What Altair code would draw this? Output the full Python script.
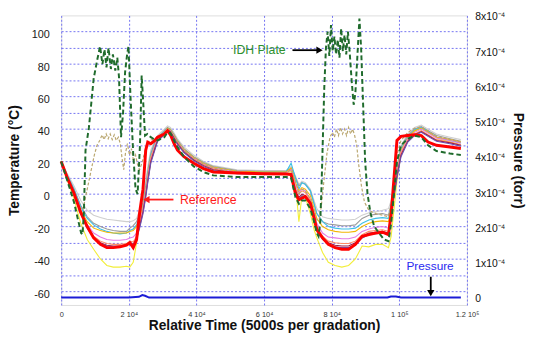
import altair as alt
import pandas as pd

# ---------------- data ----------------
TIME = [0, 1700, 3800, 5800, 7700, 9600, 11600, 13500, 15400, 17400,
        19300, 20300, 21300, 22300, 23200, 24200, 25000, 25600, 26500, 27700,
        28500, 30500, 31450, 32300, 33400, 34400, 36300, 39200, 42100, 45000,
        52000, 60000, 66500, 68000, 69300, 70300, 71200, 72200, 73700, 74800,
        75600, 77300, 79000, 81000, 83000, 85000, 87000, 89000, 91000, 93000,
        95000, 96800, 97600, 98400, 99300, 100500, 102500, 104500, 106500, 108500,
        111000, 115000, 118200]

REFERENCE = [20, 10.5, 0.5, -11.5, -20, -27, -31, -33, -33, -32.5,
             -31.5, -30, -33, -28, -11.5, 3, 27, 32, 31, 33,
             35, 37, 39, 36.5, 31, 27, 23, 19, 15.7, 13.6,
             13, 12.5, 12.3, 12, 0, -3.5, -2.5, -1.6, -5.7, -15,
             -22, -27, -31, -33, -34, -34, -31, -26, -25, -24,
             -23.5, -25, -12, 9, 33, 35.5, 36, 36.5, 36, 32,
             30, 29, 28]

LIGHT_GREY = [20, 13, 5, -4, -10, -13, -14.5, -15.5, -16, -16.5,
              -17, -17, -16.5, -15, -10, -3, 8, 17, 27, 33,
              36, 40, 42, 41, 37.5, 34, 29, 24, 20, 17.5,
              15, 14.5, 14.5, 17, 11, 6, 8, 7, 3, -4,
              -9, -14, -15, -15.5, -16, -16, -15.5, -13, -11.5, -11,
              -10, -9, -4, 5, 18, 30, 37, 41, 42.5, 40,
              37, 35, 33.5]

GREY = [20, 12, 3, -7, -14, -18, -20, -21.5, -22.5, -23,
        -23, -21, -19.5, -17, -12, -5, 5, 14, 25, 32,
        35, 39, 41, 40, 36.5, 33, 28, 23, 19.5, 17,
        14.5, 14, 14, 16, 10, 5, 7, 6, 2, -6,
        -12, -17, -18.5, -19, -19.5, -19.5, -19, -15, -13, -12.5,
        -12, -13, -6, 4, 16, 29, 36, 40, 41.5, 39,
        36, 34, 32.5]

CYAN = [20, 12, 3, -8, -15, -19, -21.5, -23, -24, -24.5,
        -24, -22.5, -21.5, -19, -14, -7, 3, 12, 24, 31,
        34.5, 38.5, 40.5, 39.5, 36, 32.5, 27.5, 22.5, 19, 16.5,
        14, 13.5, 13.5, 19, 10, 3, 7, 6, 2, -6,
        -12, -17, -20, -21, -21.5, -21.5, -21, -18, -16, -15,
        -14.5, -15, -8, 3, 15, 28, 35, 39.5, 41, 38.5,
        35, 33, 31.5]

GOLD = [20, 11, 1, -10, -17, -21, -22.5, -23.5, -24, -24,
        -24, -23, -22.5, -20, -15, -8, 2, 11, 23, 30,
        34, 38, 40.5, 39.5, 36, 32.5, 27.5, 22.5, 19, 16.5,
        14, 13.5, 13.5, 16, 7, 2, 4, 3, -1, -9,
        -15, -20, -22, -23, -23.5, -23.5, -23, -20, -18, -17,
        -16.5, -17, -9, 2, 14, 27, 34.5, 39, 40.5, 38,
        35, 33.5, 32]

PINK = [20, 11, 0, -11, -19, -24, -26.5, -28, -28.5, -28.5,
        -28, -27, -26.5, -24, -17, -9, 1, 10, 22, 30,
        34, 38, 40, 39, 35.5, 32, 27, 22, 18.5, 16,
        13.5, 13, 13, 15, 5, 1, 3, 2, -3, -11,
        -18, -24, -26.5, -27, -27.5, -27.5, -26.5, -23, -21.5, -20.5,
        -20, -21, -12, 1, 13, 26, 34, 38, 40, 37.5,
        34.5, 33, 31.5]

SALMON = [20, 10.5, -0.5, -12, -20, -26, -29, -30.5, -31, -31,
          -30.5, -29, -29.5, -26, -19, -10, 0, 9, 21, 29,
          33.5, 37.5, 39.5, 38.5, 35, 31.5, 26.5, 21.5, 18, 15.5,
          13, 12.5, 12.5, 13, 3, 0, 2, 1, -4, -12,
          -20, -26, -29, -30, -30.5, -30.5, -29, -25, -23, -22.5,
          -22, -23, -13, 0, 12, 25, 33, 37, 39, 36.5,
          33.5, 32, 30.5]

MAROON = [20, 10.5, 0, -11.5, -20, -26.5, -30, -31.5, -32, -32,
          -31, -29.5, -31, -27, -20, -11, -1, 8, 20, 28,
          33, 37, 39.5, 38.5, 34.5, 31, 26, 21, 17.5, 15,
          13, 12.5, 12.5, 12.5, 2, -2, 0, -1, -5, -13,
          -21, -27, -30, -31.5, -32, -32, -30, -26, -24, -23.5,
          -23, -24, -14, -1, 11, 24, 32.5, 36.5, 38.5, 36,
          33, 31.5, 30]

PURPLE = [20, 10, -1, -12, -21, -27, -30.5, -32, -32.5, -32.5,
          -31.5, -30, -31.5, -27.5, -21, -12, -2, 7, 19, 27,
          32.5, 36.5, 39, 38, 34, 30.5, 25.5, 20.5, 17, 14.5,
          12.5, 12, 12, 12, 1, -3, -1, -2, -6, -14,
          -22, -28, -31, -32.5, -33, -33, -31, -27, -25, -24.5,
          -24, -25, -15, -2, 10, 23, 32, 36, 38, 35.5,
          32.5, 31, 29.5]

YELLOW = [20, 9, -3, -18, -28, -34, -40, -44, -45, -45,
          -44.5, -45, -42, -30, -18, -8, 2, 10, 20, 28,
          33, 37, 40, 40, 36, 32, 27, 22, 18.5, 16,
          13.5, 13, 13, 14, 6, -17, -1, -2, -12, -22,
          -27, -36, -42, -44, -45, -44, -40, -32, -32.5, -31,
          -31, -33, -26, -10, 8, 25, 34, 38.5, 41, 38,
          34.5, 32, 30]

IDH_TIME = [0, 1700, 3800, 5000, 5900, 6300, 6700, 7200, 8200, 9000,
            9600, 10600, 11500, 12200, 12800, 13400, 14000, 14700, 15300, 16000,
            16600, 17100, 17700, 18300, 18900, 19500, 19900, 20500, 21300, 22000,
            22600, 23300, 23800, 24300, 24800, 25500, 26500, 27700, 28500, 30500,
            31450, 32300, 33400, 34400, 36300, 39200, 42100, 45000, 52000, 60000,
            66500, 68000, 69300, 70300, 71200, 72200, 73700, 74800, 75600, 76100,
            76600, 77000, 77400, 77800, 78300, 78800, 79300, 79800, 80300, 80800,
            81300, 81800, 82300, 82800, 83300, 83800, 84300, 84800, 85300, 85900,
            86500, 87000, 87600, 88200, 88700, 89300, 89900, 90600, 91500, 92600,
            94000, 95500, 96800, 97600, 98400, 99300, 100500, 102500, 104500, 106500,
            108500, 111000, 115000, 118200]
IDH_PLATE = [20, 9, -5, -16, -24, -25, -12, 27, 41, 58,
             71, 82, 91, 80, 89, 78, 90, 77, 86, 76,
             84, 72, 35, 50, 75, 86, 91, 60, 25, 3,
             0, 30, 73, 55, 36, 37, 35, 33.5, 33, 35,
             38, 37.5, 33, 29, 23, 17, 13.5, 11.5, 10.5, 10.5,
             10.5, 10, -2, -6, -4, -4, -9, -17, -24, -26,
             -18, 5, 35, 65, 90, 100, 85, 104, 88, 97,
             86, 95, 84, 102, 88, 98, 86, 100, 88, 70,
             55, 62, 85, 108, 90, 55, 20, 0, -12, -20,
             -24, -28, -29, -18, 0, 20, 30, 34, 36, 35,
             30, 26.5, 25, 24]

TAN_TIME = [0, 1700, 3800, 5800, 6600, 7400, 8200, 9000, 9800, 10600,
            11400, 12100, 12700, 13300, 13900, 14500, 15100, 15700, 16300, 16900,
            17500, 18000, 18500, 19000, 19600, 20200, 20800, 21400, 22000, 22600,
            23200, 24000, 25000, 26000, 27700, 28500, 30500, 31450, 32300, 33400,
            34400, 36300, 39200, 42100, 45000, 52000, 60000, 66500, 68000, 69300,
            70300, 71200, 72200, 73700, 74800, 75600, 76300, 76900, 77800, 78600,
            79500, 80200, 80800, 81400, 82000, 82600, 83200, 83800, 84400, 85000,
            85600, 86200, 86800, 87400, 88000, 88800, 89700, 91000, 93000, 95000,
            96800, 97600, 98400, 99300, 100500, 102500, 104500, 106500, 108500, 111000,
            115000, 118200]
TAN_PLATE = [20, 10.5, 0, -10, -8, 0, 8, 16, 24, 30,
             33, 36.5, 33.5, 37, 34, 37, 33.5, 36.5, 33, 35,
             31, 22, 15, 25, 31, 24, 28, 20, 24, 18,
             15, 20, 28, 33, 34, 35, 38, 40, 39.5, 36,
             32, 27, 22, 18.5, 16, 13.5, 13, 13, 15, 8,
             0, 3, 2, -3, -11, -16, -16, -8, 10, 25,
             35, 38, 35, 40, 36, 41, 37, 40, 36, 41,
             37, 40, 36, 30, 18, 5, -5, -10, -12, -13,
             -14, -6, 8, 24, 33, 38, 40.5, 41.5, 39, 35.5,
             33.5, 32]

P_TIME = [0, 20000, 23000, 24000, 24800, 26000, 96500, 97500, 99000, 100500, 118200]
PRESSURE = [0.0, 0.0, 0.000002, 0.000007, 0.000005, 0.0, 0.0, 0.000003, 0.000003, 0.0, 0.0]

CLUSTER_NAMES = ["yellow", "light grey", "grey", "cyan", "gold", "pink", "salmon", "maroon", "purple"]
CLUSTER_VALUES = [YELLOW, LIGHT_GREY, GREY, CYAN, GOLD, PINK, SALMON, MAROON, PURPLE]
CLUSTER_COLORS = ["#f2ee38", "#cfcfcf", "#9a9a9a", "#3cbfe6", "#f2b705", "#e27ce6", "#ff8a65", "#9b1b45", "#6a4fb0"]

X_TICKS = [0, 20000, 40000, 60000, 80000, 100000, 120000]
X_LABELS = ["0", "2 10⁴", "4 10⁴", "6 10⁴", "8 10⁴", "1 10⁵", "1.2 10⁵"]
T_TICKS = list(range(-60, 101, 10))
P_TICKS = [0.0, 0.0001, 0.0002, 0.0003, 0.0004, 0.0005, 0.0006, 0.0007, 0.0008]

# annotations (data coordinates)
IDH_TEXT = {"t": 58600, "T": 88.7, "label": "IDH Plate"}
IDH_ARROW = {"t": 68400, "t2": 75700, "T": 88.6, "head_t": 76400}
REF_TEXT = {"t": 43500, "T": -3.8, "label": "Reference"}
REF_ARROW = {"t": 25900, "t2": 33200, "T": -3.4, "head_t": 25200}
P_TEXT = {"t": 109100, "p": 0.0000888, "label": "Pressure"}
P_ARROW = {"t": 109300, "p": 0.000059, "p2": 0.000021, "head_p": 0.0000125}

# ---------------- frames ----------------
rows = []
for name, vals in zip(CLUSTER_NAMES, CLUSTER_VALUES):
    for t, v in zip(TIME, vals):
        rows.append({"t": t, "T": v, "s": name})
cluster_df = pd.DataFrame(rows)
ref_df = pd.DataFrame({"t": TIME, "T": REFERENCE})
idh_df = pd.DataFrame({"t": IDH_TIME, "T": IDH_PLATE})
tan_df = pd.DataFrame({"t": TAN_TIME, "T": TAN_PLATE})
p_df = pd.DataFrame({"t": P_TIME, "p": PRESSURE})

GRID = "#7474f2"
FONT = "Liberation Sans"

x_expr = " : ".join(f"datum.value == {v} ? '{lab}'" for v, lab in zip(X_TICKS, X_LABELS)) + " : ''"

x_enc = alt.X("t:Q", scale=alt.Scale(domain=[0, 120000], nice=False, zero=False),
              axis=alt.Axis(values=X_TICKS, labelExpr=x_expr, grid=True, gridColor=GRID,
                            gridDash=[2, 2], gridWidth=1, domain=False, ticks=False,
                            labelFontSize=7.5, labelColor="#333333", labelPadding=6,
                            labelFlush=False, labelOverlap=False,
                            title="Relative Time (5000s per gradation)", titleFontSize=14,
                            titleFontWeight="bold", titleColor="#111111",
                            titleX=206, titleY=21, titleAlign="center", titleBaseline="middle"))
x2_enc = alt.X2("t2:Q")

y_enc = alt.Y("T:Q", scale=alt.Scale(domain=[-68.3, 110], nice=False, zero=False),
              axis=alt.Axis(values=T_TICKS,
                            labelExpr="datum.value % 20 == 0 ? '' + datum.value : ''",
                            grid=True, gridColor=GRID, gridDash=[2, 2], gridWidth=1,
                            domain=False, ticks=False, labelFontSize=11, labelColor="#1a1a1a",
                            labelPadding=12, labelOffset=3,
                            title="Temperature (°C)", titleFontSize=14, titleFontWeight="bold",
                            titleColor="#111111", titleX=-47, titleY=147, titleAngle=270,
                            titleAlign="center", titleBaseline="middle"))

p_enc = alt.Y("p:Q", scale=alt.Scale(domain=[-0.000021, 0.0008], nice=False, zero=False),
              axis=alt.Axis(orient="right", values=P_TICKS,
                            labelExpr="datum.value < 0.00005 ? '0' : round(datum.value * 10000) + 'x10⁻⁴'",
                            grid=False, domain=False, ticks=False, labelFontSize=10.5,
                            labelColor="#111111", labelPadding=8, labelOffset=1.5,
                            title="Pressure (torr)", titleFontSize=14, titleFontWeight="bold",
                            titleColor="#111111", titleX=51, titleY=147, titleAngle=90,
                            titleAlign="center", titleBaseline="middle"))

cluster = alt.Chart(cluster_df).mark_line(strokeWidth=1.1).encode(
    x=x_enc, y=y_enc,
    color=alt.Color("s:N", scale=alt.Scale(domain=CLUSTER_NAMES, range=CLUSTER_COLORS), legend=None),
)
tan = alt.Chart(tan_df).mark_line(color="#b9a66e", strokeWidth=1.2, strokeDash=[3, 2]).encode(x=x_enc, y=y_enc)
ref = alt.Chart(ref_df).mark_line(color="#ff0000", strokeWidth=3).encode(x=x_enc, y=y_enc)
idh = alt.Chart(idh_df).mark_line(color="#1f6b2c", strokeWidth=2, strokeDash=[5, 3]).encode(x=x_enc, y=y_enc)

idh_text = alt.Chart(pd.DataFrame([IDH_TEXT])).mark_text(
    font=FONT, fontSize=12.5, color="#2e8f2e", align="center", baseline="middle"
).encode(x=x_enc, y=y_enc, text="label:N")
idh_rule = alt.Chart(pd.DataFrame([IDH_ARROW])).mark_rule(color="black", strokeWidth=1.8).encode(
    x=x_enc, x2=x2_enc, y=y_enc)
idh_head = alt.Chart(pd.DataFrame([{"t": IDH_ARROW["head_t"], "T": IDH_ARROW["T"]}])).mark_point(
    shape="triangle-right", filled=True, size=55, color="black", opacity=1, strokeWidth=0
).encode(x=x_enc, y=y_enc)

ref_text = alt.Chart(pd.DataFrame([REF_TEXT])).mark_text(
    font=FONT, fontSize=12.5, color="#ff1a1a", align="center", baseline="middle"
).encode(x=x_enc, y=y_enc, text="label:N")
ref_rule = alt.Chart(pd.DataFrame([REF_ARROW])).mark_rule(color="#ff1a1a", strokeWidth=1.8).encode(
    x=x_enc, x2=x2_enc, y=y_enc)
ref_head = alt.Chart(pd.DataFrame([{"t": REF_ARROW["head_t"], "T": REF_ARROW["T"]}])).mark_point(
    shape="triangle-left", filled=True, size=55, color="#ff1a1a", opacity=1, strokeWidth=0
).encode(x=x_enc, y=y_enc)

temp_layer = alt.layer(cluster, tan, ref, idh, idh_text, idh_rule, idh_head, ref_text, ref_rule, ref_head)

p_line = alt.Chart(p_df).mark_line(color="#1c1cd6", strokeWidth=2).encode(x=x_enc, y=p_enc)
p_text = alt.Chart(pd.DataFrame([P_TEXT])).mark_text(
    font=FONT, fontSize=12, color="#2a2af0", align="center", baseline="middle"
).encode(x=x_enc, y=p_enc, text="label:N")
p_rule = alt.Chart(pd.DataFrame([P_ARROW])).mark_rule(color="black", strokeWidth=1.8).encode(
    x=x_enc, y=p_enc, y2=alt.Y2("p2:Q"))
p_head = alt.Chart(pd.DataFrame([{"t": P_ARROW["t"], "p": P_ARROW["head_p"]}])).mark_point(
    shape="triangle-down", filled=True, size=55, color="black", opacity=1, strokeWidth=0
).encode(x=x_enc, y=p_enc)

press_layer = alt.layer(p_line, p_text, p_rule, p_head)

chart = alt.layer(temp_layer, press_layer).resolve_scale(y="independent").properties(
    width=412, height=294,
    autosize=alt.AutoSizeParams(type="none"),
    padding={"left": 54, "top": 5, "right": 62, "bottom": 30},
    background="white",
).configure_view(stroke="#4d4dd9", strokeWidth=1.2).configure(font=FONT)

chart.save("out.html", embed_options={"renderer": "svg", "actions": False})
